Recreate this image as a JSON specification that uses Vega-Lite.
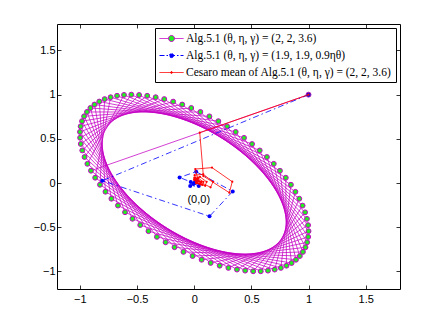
{
  "$schema": "https://vega.github.io/schema/vega-lite/v6.json",
  "width": 343,
  "height": 265,
  "autosize": "none",
  "padding": {"left": 57, "top": 24, "right": 42, "bottom": 37},
  "background": "white",
  "config": {
    "view": {"stroke": "black", "strokeWidth": 1},
    "axis": {"grid": false, "domain": false, "tickColor": "black", "tickSize": -4, "tickWidth": 0.8, "labelFont": "Liberation Sans", "labelFontSize": 11, "labelColor": "black", "title": null}
  },
  "resolve": {"axis": {"x": "independent", "y": "independent"}},
  "datasets": {
    "mag": [
      {"k":0,"x":1,"y":1},{"k":1,"x":-0.903,"y":0.139},{"k":2,"x":0.144,"y":-0.905},{"k":3,"x":0.988,"y":-0.671},{"k":4,"x":0.436,"y":0.511},{"k":5,"x":-0.731,"y":0.971},{"k":6,"x":-0.866,"y":0.060},{"k":7,"x":0.223,"y":-0.936},{"k":8,"x":0.997,"y":-0.610},{"k":9,"x":0.363,"y":0.578},{"k":10,"x":-0.783,"y":0.950},{"k":11,"x":-0.824,"y":-0.020},{"k":12,"x":0.299,"y":-0.961},{"k":13,"x":1.000,"y":-0.545},{"k":14,"x":0.288,"y":0.641},{"k":15,"x":-0.830,"y":0.922},{"k":16,"x":-0.776,"y":-0.099},{"k":17,"x":0.374,"y":-0.980},{"k":18,"x":0.996,"y":-0.477},{"k":19,"x":0.211,"y":0.700},{"k":20,"x":-0.872,"y":0.888},{"k":21,"x":-0.724,"y":-0.178},{"k":22,"x":0.446,"y":-0.992},{"k":23,"x":0.986,"y":-0.406},{"k":24,"x":0.133,"y":0.754},{"k":25,"x":-0.908,"y":0.849},{"k":26,"x":-0.667,"y":-0.255},{"k":27,"x":0.516,"y":-0.999},{"k":28,"x":0.970,"y":-0.332},{"k":29,"x":0.054,"y":0.804},{"k":30,"x":-0.938,"y":0.804},{"k":31,"x":-0.605,"y":-0.331},{"k":32,"x":0.582,"y":-0.999},{"k":33,"x":0.948,"y":-0.256},{"k":34,"x":-0.026,"y":0.849},{"k":35,"x":-0.963,"y":0.755},{"k":36,"x":-0.540,"y":-0.405},{"k":37,"x":0.645,"y":-0.992},{"k":38,"x":0.919,"y":-0.178},{"k":39,"x":-0.105,"y":0.888},{"k":40,"x":-0.981,"y":0.700},{"k":41,"x":-0.472,"y":-0.476},{"k":42,"x":0.704,"y":-0.980},{"k":43,"x":0.885,"y":-0.100},{"k":44,"x":-0.184,"y":0.921},{"k":45,"x":-0.993,"y":0.641},{"k":46,"x":-0.400,"y":-0.545},{"k":47,"x":0.758,"y":-0.961},{"k":48,"x":0.846,"y":-0.020},{"k":49,"x":-0.262,"y":0.950},{"k":50,"x":-0.999,"y":0.578},{"k":51,"x":-0.326,"y":-0.610},{"k":52,"x":0.807,"y":-0.936},{"k":53,"x":0.801,"y":0.059},{"k":54,"x":-0.337,"y":0.971},{"k":55,"x":-0.998,"y":0.512},{"k":56,"x":-0.250,"y":-0.671},{"k":57,"x":0.852,"y":-0.906},{"k":58,"x":0.750,"y":0.138},{"k":59,"x":-0.411,"y":0.987},{"k":60,"x":-0.992,"y":0.442},{"k":61,"x":-0.172,"y":-0.727},{"k":62,"x":0.890,"y":-0.869},{"k":63,"x":0.696,"y":0.217},{"k":64,"x":-0.482,"y":0.996},{"k":65,"x":-0.979,"y":0.369},{"k":66,"x":-0.094,"y":-0.780},{"k":67,"x":0.924,"y":-0.827},{"k":68,"x":0.636,"y":0.294},{"k":69,"x":-0.550,"y":1.000},{"k":70,"x":-0.959,"y":0.294},{"k":71,"x":-0.014,"y":-0.827},{"k":72,"x":0.951,"y":-0.780},{"k":73,"x":0.573,"y":0.368},{"k":74,"x":-0.614,"y":0.997},{"k":75,"x":-0.934,"y":0.217},{"k":76,"x":0.065,"y":-0.869},{"k":77,"x":0.973,"y":-0.728},{"k":78,"x":0.506,"y":0.441},{"k":79,"x":-0.675,"y":0.987}
    ],
    "blue": [
      {"k":0,"x":1,"y":1},{"k":1,"x":-0.804,"y":0.026},{"k":2,"x":0.134,"y":-0.377},{"k":3,"x":0.337,"y":-0.095},{"k":4,"x":0.017,"y":0.128},{"k":5,"x":-0.128,"y":0.063},{"k":6,"x":-0.03,"y":0.012},{"k":7,"x":0.04,"y":-0.035},{"k":8,"x":-0.035,"y":-0.035},{"k":9,"x":0.022,"y":0.035},{"k":10,"x":-0.008,"y":-0.012},{"k":11,"x":0.01,"y":0.01},{"k":12,"x":0.0,"y":0.0}
    ],
    "red": [
      {"k":1,"x":1,"y":1},{"k":2,"x":0.0485,"y":0.5695},{"k":3,"x":0.0803,"y":0.078},{"k":4,"x":0.3073,"y":-0.1093},{"k":5,"x":0.333,"y":0.0148},{"k":6,"x":0.1557,"y":0.1742},{"k":7,"x":0.0097,"y":0.1579},{"k":8,"x":0.0364,"y":0.0211},{"k":9,"x":0.1431,"y":-0.049},{"k":10,"x":0.1651,"y":0.0137},{"k":11,"x":0.0789,"y":0.0988},{"k":12,"x":0.0037,"y":0.0889},{"k":13,"x":0.0264,"y":0.0082},{"k":14,"x":0.0959,"y":-0.0314},{"k":15,"x":0.1087,"y":0.0135},{"k":16,"x":0.0501,"y":0.0703},{"k":17,"x":0.0015,"y":0.0603},{"k":18,"x":0.0222,"y":0.0025},{"k":19,"x":0.0734,"y":-0.0227},{"k":20,"x":0.0803,"y":0.0134},{"k":21,"x":0.035,"y":0.055},{"k":22,"x":0.0005,"y":0.0445},{"k":23,"x":0.0198,"y":-0.0006},{"k":24,"x":0.0601,"y":-0.0175},{"k":25,"x":0.063,"y":0.0134},{"k":26,"x":0.0257,"y":0.0455},{"k":27,"x":0.0,"y":0.0344},{"k":28,"x":0.0184,"y":-0.0025},{"k":29,"x":0.0512,"y":-0.0139},{"k":30,"x":0.0513,"y":0.0134},{"k":31,"x":0.0194,"y":0.0389}
    ],
    "note": [{"x":0.04,"y":-0.19,"t":"(0,0)"}]
  },
  "layer": [
    {
      "data": {"name": "mag"},
      "mark": {"type": "line", "strokeWidth": 0.75},
      "encoding": {
        "x": {"field": "x", "type": "quantitative", "scale": {"domain": [-1.2, 1.8], "nice": false, "zero": false}, "axis": {"orient": "bottom", "values": [-1, -0.5, 0, 0.5, 1, 1.5], "format": "~g", "labelPadding": 8}},
        "y": {"field": "y", "type": "quantitative", "scale": {"domain": [-1.2, 1.8], "nice": false, "zero": false}, "axis": {"orient": "left", "values": [-1, -0.5, 0, 0.5, 1, 1.5], "format": "~g", "labelPadding": 6}},
        "order": {"field": "k"},
        "color": {
          "datum": "Alg.5.1 (θ, η, γ) = (2, 2, 3.6)",
          "scale": {"domain": ["Alg.5.1 (θ, η, γ) = (2, 2, 3.6)", "Alg.5.1 (θ, η, γ) = (1.9, 1.9, 0.9ηθ)", "Cesaro mean of Alg.5.1 (θ, η, γ) = (2, 2, 3.6)"], "range": ["#c400c4", "#0000ff", "#ff0000"]},
          "legend": {
            "title": null, "orient": "top-right", "offset": 4,
            "fillColor": "white", "strokeColor": "black", "padding": 4,
            "labelFont": "Liberation Serif", "labelFontSize": 11.5, "labelColor": "black", "labelLimit": 400,
            "symbolSize": 144, "symbolOffset": 6, "labelOffset": 8, "rowPadding": 5,
            "symbolType": "M-2,0H2", "symbolStrokeWidth": 1,
            "encode": {"symbols": {"update": {
              "shape": {"signal": "indexof(datum.value,'Cesaro')>=0 ? 'M-2,0H2M0.15,0A0.15,0.15,0,1,1,-0.15,0A0.15,0.15,0,1,1,0.15,0Z' : indexof(datum.value,'1.9')>=0 ? 'M-2,0H2M0.35,0A0.35,0.35,0,1,1,-0.35,0A0.35,0.35,0,1,1,0.35,0Z' : 'M-2,0H-0.5M0.5,0H2M0.5,0A0.5,0.5,0,1,1,-0.5,0A0.5,0.5,0,1,1,0.5,0Z'"},
              "fill": {"signal": "indexof(datum.value,'Cesaro')>=0 ? '#ff0000' : indexof(datum.value,'1.9')>=0 ? '#0000ff' : '#22ee22'"},
              "fillOpacity": {"value": 1},
              "opacity": {"value": 1},
              "strokeDash": {"signal": "indexof(datum.value,'1.9')>=0 ? [5,2,1.5,2] : [1,0]"}
            }}}
          }
        }
      }
    },
    {
      "data": {"name": "mag"},
      "mark": {"type": "point", "shape": "circle", "filled": true, "fill": "#22ee22", "stroke": "#c400c4", "strokeWidth": 1, "size": 24, "opacity": 1},
      "encoding": {
        "x": {"field": "x", "type": "quantitative", "axis": {"orient": "top", "values": [-1, -0.5, 0, 0.5, 1, 1.5], "labels": false}},
        "y": {"field": "y", "type": "quantitative", "axis": {"orient": "right", "values": [-1, -0.5, 0, 0.5, 1, 1.5], "labels": false}}
      }
    },
    {
      "data": {"name": "blue"},
      "mark": {"type": "line", "strokeWidth": 0.8, "strokeDash": [6, 3, 1.5, 3], "color": "#0000ff"},
      "encoding": {
        "x": {"field": "x", "type": "quantitative", "axis": null},
        "y": {"field": "y", "type": "quantitative", "axis": null},
        "order": {"field": "k"},
        "color": {"datum": "Alg.5.1 (θ, η, γ) = (1.9, 1.9, 0.9ηθ)"}
      }
    },
    {
      "data": {"name": "blue"},
      "mark": {"type": "circle", "size": 16, "color": "#0000ff", "opacity": 1},
      "encoding": {
        "x": {"field": "x", "type": "quantitative", "axis": null},
        "y": {"field": "y", "type": "quantitative", "axis": null}
      }
    },
    {
      "data": {"name": "red"},
      "mark": {"type": "line", "strokeWidth": 0.8},
      "encoding": {
        "x": {"field": "x", "type": "quantitative", "axis": null},
        "y": {"field": "y", "type": "quantitative", "axis": null},
        "order": {"field": "k"},
        "color": {"datum": "Cesaro mean of Alg.5.1 (θ, η, γ) = (2, 2, 3.6)"}
      }
    },
    {
      "data": {"name": "red"},
      "mark": {"type": "circle", "size": 5, "color": "#ff0000", "opacity": 1},
      "encoding": {
        "x": {"field": "x", "type": "quantitative", "axis": null},
        "y": {"field": "y", "type": "quantitative", "axis": null}
      }
    },
    {
      "data": {"name": "note"},
      "mark": {"type": "text", "font": "Liberation Sans", "fontSize": 11, "color": "black", "align": "center", "baseline": "middle"},
      "encoding": {
        "x": {"field": "x", "type": "quantitative", "axis": null},
        "y": {"field": "y", "type": "quantitative", "axis": null},
        "text": {"field": "t"}
      }
    }
  ]
}
